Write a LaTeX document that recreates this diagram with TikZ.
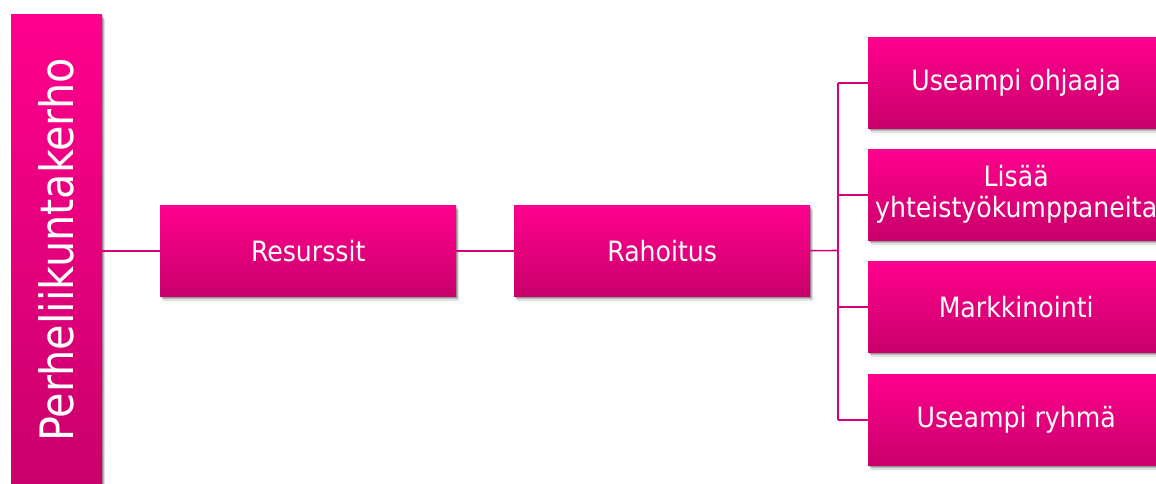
\documentclass[tikz,border=0pt]{standalone}
\usepackage{fontspec}
\newfontfamily\boxfont{DejaVu Sans Condensed}
\usetikzlibrary{shadows}
\definecolor{pinkT}{RGB}{255,0,142}
\definecolor{pinkB}{RGB}{200,0,106}
\definecolor{linkc}{RGB}{214,0,124}
\tikzset{
  softshadow/.style={
    general shadow={shadow xshift=1pt, shadow yshift=-2pt, shadow scale=1.0, opacity=0.18, fill=black},
    general shadow={shadow xshift=2pt, shadow yshift=-3pt, opacity=0.18, fill=black},
    general shadow={shadow xshift=3pt, shadow yshift=-4.5pt, opacity=0.12, fill=black}},
  pbox/.style={rectangle, anchor=north west, inner sep=0pt, align=center,
    top color=pinkT, bottom color=pinkB, text=white,
    minimum width=296pt, minimum height=91pt, softshadow,
    font=\boxfont\fontsize{28}{31}\selectfont},
  conn/.style={draw=linkc, line width=1.6pt}
}
\begin{document}
\begin{tikzpicture}[x=1pt,y=-1pt]
\useasboundingbox (0,0) rectangle (1156,483);
\clip (0,0) rectangle (1156,483);
\node[pbox, minimum width=91pt, minimum height=480pt] (L) at (11,14) {};
\node[rotate=90, text=white, font=\boxfont\fontsize{46}{50}\selectfont] (Lt) at (56.5,250) {Perheliikuntakerho};
\node[pbox] (Res) at (160,205) {Resurssit};
\node[pbox] (Rah) at (514,205) {Rahoitus};
\node[pbox] (U1) at (868,37) {Useampi ohjaaja};
\node[pbox] (U2) at (868,149) {Lisää\\yhteistyökumppaneita};
\node[pbox] (U3) at (868,261) {Markkinointi};
\node[pbox] (U4) at (868,374) {Useampi ryhmä};
\coordinate (sp) at (838,250.5);
\draw[conn] (L.east |- Res.west) -- (Res.west);
\draw[conn] (Res.east) -- (Rah.west);
\draw[conn] (Rah.east) -- (sp);
\draw[conn] (sp |- U1.west) -- (sp |- U4.west);
\draw[conn] (sp |- U1.west) -- (U1.west);
\draw[conn] (sp |- U2.west) -- (U2.west);
\draw[conn] (sp |- U3.west) -- (U3.west);
\draw[conn] (sp |- U4.west) -- (U4.west);
\end{tikzpicture}
\end{document}
